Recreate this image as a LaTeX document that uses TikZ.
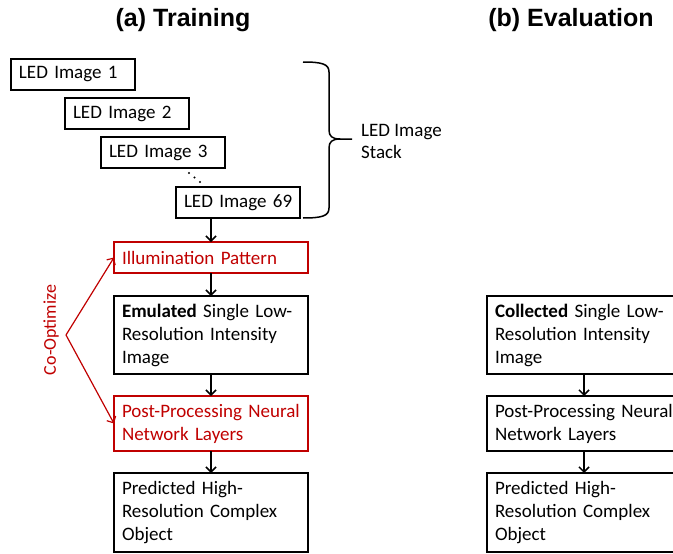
\documentclass[tikz,border=0pt]{standalone}
\usepackage{fontspec}
\setmainfont{Carlito}
\newfontfamily\titlefont{Liberation Sans}
\usetikzlibrary{arrows.meta}
\definecolor{cored}{RGB}{192,0,0}
\tikzset{
  box/.style={draw, line width=1.8pt, anchor=north west, outer sep=0pt, text width=178pt, inner xsep=8pt, inner ysep=0pt, align=left, font=\fontsize{19}{23}\selectfont},
  ledbox/.style={box, text width=108pt, minimum height=31pt},
  redbox/.style={box, draw=cored, text=cored},
  arr/.style={line width=1.5pt, -{Straight Barb[length=5pt,width=10pt]}},
  redarr/.style={arr, cored, line width=1.2pt},
  title/.style={anchor=base, font=\titlefont\fontsize{25}{30}\selectfont\bfseries}
}
\begin{document}
\begin{tikzpicture}[x=1pt,y=-1pt]
  \useasboundingbox (0,0) rectangle (673,554);
  \node[title] (TA) at (183,27) {(a) Training};
  \node[title] (TB) at (571,27) {(b) Evaluation};
  \foreach \n/\x/\y in {1/11/59, 2/65/98, 3/101/137, 69/176/187}{
    \node[ledbox] (L\n) at (\x,\y) {\mbox{LED Image \n}};
  }
  \foreach \x/\y in {189/173, 194.5/177.5, 200/182}{
    \fill (\x,\y) circle (1.2pt);
  }
  \draw[line width=1.5pt] (303,62) .. controls (322,62) and (329,64) .. (329,72) -- (329,130)
    .. controls (329,136) and (332,139) .. (340,139) -- (352,139);
  \draw[line width=1.5pt] (303,218) .. controls (322,218) and (329,216) .. (329,208) -- (329,148)
    .. controls (329,142) and (332,139) .. (340,139);
  \node[anchor=west, align=left, inner sep=0pt, font=\fontsize{19}{22}\selectfont] (ST) at (361,141) {LED Image\\Stack};
  \node[redbox, minimum height=31pt] (IP) at (114,242) {Illumination Pattern};
  \node[box, minimum height=78pt] (EM) at (114,296) {\textbf{Emulated} Single Low-\\Resolution Intensity\\Image};
  \node[redbox, minimum height=55pt] (PP) at (114,396) {\mbox{Post-Processing Neural}\\Network Layers};
  \node[box, minimum height=79pt] (PR) at (114,473) {Predicted High-\\Resolution Complex\\Object};
  \node[box, minimum height=78pt] (CO) at (487,296) {\textbf{Collected} Single Low-\\Resolution Intensity\\Image};
  \node[box, minimum height=55pt] (PP2) at (487,396) {\mbox{Post-Processing Neural}\\Network Layers};
  \node[box, minimum height=79pt] (PR2) at (487,473) {Predicted High-\\Resolution Complex\\Object};
  \draw[arr] (IP.north |- L69.south) -- (IP.north);
  \draw[arr] (IP) -- (EM);
  \draw[arr] (EM) -- (PP);
  \draw[arr] (PP) -- (PR);
  \draw[arr] (CO) -- (PP2);
  \draw[arr] (PP2) -- (PR2);
  \coordinate (V) at (66,335);
  \node[rotate=90, text=cored, inner sep=0pt, font=\fontsize{18}{21}\selectfont] (CL) at (51,330) {Co-Optimize};
  \draw[redarr] (V) -- (IP.west);
  \draw[redarr] (V) -- (PP.west);
\end{tikzpicture}
\end{document}
